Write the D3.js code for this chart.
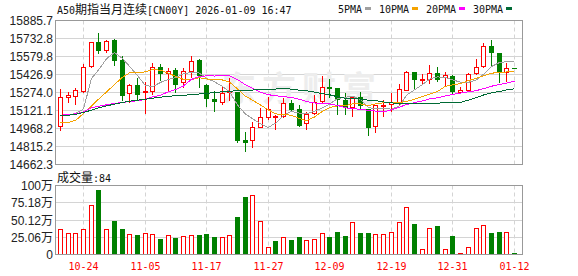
<!DOCTYPE html>
<html>
<head>
<meta charset="utf-8">
<script src="https://cdn.jsdelivr.net/npm/d3@7"></script>
<style>
    body { margin: 0; background: #fff; }
    svg { display: block; }
    .mono { font-family: "DejaVu Sans Mono", "Liberation Mono", monospace; font-size: 10px; }
    .cjk { font-family: "Noto Sans CJK SC", sans-serif; font-size: 12px; }
    .num { font-family: "Liberation Sans", Arial, sans-serif; font-size: 12px; }
</style>
</head>
<body>
<svg id="chart" width="578" height="276"></svg>
<script>
// Trading days shown on the chart (MM-DD).
var dates = ["10-21","10-22","10-23","10-24","10-27","10-28","10-29","10-30","10-31","11-03",
    "11-04","11-05","11-06","11-07","11-10","11-11","11-12","11-13","11-14","11-17",
    "11-18","11-19","11-20","11-21","11-24","11-25","11-26","11-27","11-28","12-01",
    "12-02","12-03","12-04","12-05","12-08","12-09","12-10","12-11","12-12","12-15",
    "12-16","12-17","12-18","12-19","12-22","12-23","12-24","12-25","12-26","12-29",
    "12-30","12-31","01-01","01-02","01-05","01-06","01-07","01-08","01-09","01-12"];

var opens = [14987.7,15234,15242.6,15285,15497.4,15696,15633.4,15715.8,15545.9,15262.9,
    15333.5,15271.4,15285,15489,15433,15460.9,15356.4,15455,15545.9,15333.5,
    15214.5,15191.6,15271.4,15276.5,14866.2,14866.2,14979,15059,15064,15072.7,
    15180.5,15129.6,15008,15093,15195,15319,15308,15206,15144,15229,
    15129.6,14982.6,15157.6,15174.6,15191.6,15291,15441.4,15376,15384.4,15433,
    15399,15407.4,15276.5,15293.5,15433,15492.3,15662.3,15605.3,15446.5,15476];
var highs = [15308,15285,15314,15518,15701,15781,15724,15730,15588,15350.5,
    15399,15370,15531.4,15520.4,15483.8,15483.8,15483.8,15588,15560.3,15348,
    15291,15327.5,15399,15285,14945.2,15030,15144,15242.6,15087,15229,
    15214.5,15172,15115,15257,15418.4,15390.4,15314,15276.5,15248.5,15285,
    15135.5,15166,15214.5,15271.4,15348,15460.9,15441.4,15433,15512,15497.4,
    15455,15427,15322.4,15446.5,15560.3,15696,15724,15612,15526.3,15476];
var lows = [14953.7,15186.5,15172,15276.5,15489,15602.8,15611,15506,15206,15186.5,
    15206,15095.6,15259.5,15376,15291,15276.5,15314,15399,15314,15157.6,
    15115,15172,15206,14846.7,14770.2,14809.3,14974,15044.6,14959.7,15064,
    15112.6,14985,14959.7,15087,15186.5,15229,15087,15087,15072.7,15129.6,
    14911.2,14931.6,15072.7,15115,15172,15291,15299.5,15342,15348,15370,
    15327.5,15257,15271.4,15285,15427,15483.8,15503.4,15361.5,15370,15475];
var closes = [15229,15246,15291,15489,15696,15630.8,15704.7,15548.4,15251,15333.5,
    15259.5,15285,15489,15433,15455,15342,15455,15534.8,15418.4,15220.5,
    15197.5,15265.5,15285,14868.7,14851.7,14974,15059,15129.6,15067,15180.5,
    15129.6,14993.6,15087,15186.5,15314,15308,15214.5,15144,15229,15163.5,
    14979,15163.5,15166,15186.5,15299.5,15446.5,15384.4,15386,15433,15384.4,
    15418.4,15285,15288,15427,15483.8,15667.4,15611,15446.5,15475.3,15475];

// Volume in 万 (10k).
var volumes = [36,30,30,37,71,93,36,47.7,36,28.7,
    27,30,28.7,21.5,27,23,25.8,27,27,28.7,
    24.4,24.4,27,53.6,82.8,85.7,47.7,9.8,18.5,24.4,
    20,24.4,20,21.5,30,24.4,31.7,25.8,46,30,
    30,28.7,28.7,31.7,46,69,43,6.8,37.5,40,
    6.8,25.8,1,9.8,37.5,42,30,31.7,31.7,0.0084];
var lastVolume = 84;

// Moving averages.
var ma5 = [15076,15081,15096,15135,15390.2,15470.6,15562.3,15613.8,15566.2,15493.7,
    15419.4,15335.5,15323.6,15360,15384.3,15400.8,15434.8,15444,15441,15394.1,
    15365.2,15327.3,15277.4,15167.4,15093.7,15049,15007.7,14976.6,15016.4,15082.1,
    15113.2,15100.2,15091.6,15115.4,15142.1,15177.8,15222,15233.4,15241.9,15211.8,
    15146,15135.8,15140.2,15131.7,15158.9,15252.4,15296.6,15340.3,15389.6,15406.5,
    15400.9,15381,15361.2,15360,15379.8,15429.6,15494.8,15527.1,15536.8,15535];
var ma10 = [15016.6,15019,15038.7,15095.6,15157.6,15220.5,15279.9,15340.3,15401.4,15441.9,
    15445,15448.9,15468.7,15463.1,15439,15410.1,15385.1,15383.8,15400.5,15389.2,
    15383,15381.1,15360.7,15304.2,15243.9,15207.1,15167.5,15127,15091.9,15087.9,
    15081.1,15053.9,15034.1,15065.9,15112.1,15145.5,15161.1,15162.5,15178.7,15177,
    15161.9,15178.9,15186.8,15186.8,15185.4,15199.2,15216.2,15240.2,15260.6,15282.7,
    15326.7,15338.8,15350.7,15374.8,15393.2,15415.3,15437.9,15444.2,15448.4,15457.4];
var ma20 = [15080,15087,15093,15110,15144,15157.6,15169.5,15180.5,15189,15197.5,
    15203.5,15214.5,15237.5,15251,15280,15300,15330,15385,15410,15415.6,
    15414,15415,15414.7,15383.7,15341.5,15308.6,15276.3,15255.4,15246.2,15238.6,
    15232.1,15217.5,15197.4,15185.1,15178,15176.3,15164.3,15144.8,15135.3,15132.4,
    15121.5,15116.4,15110.5,15126.4,15148.7,15172.4,15188.6,15201.4,15219.7,15229.8,
    15244.3,15258.9,15268.8,15280.8,15289.3,15307.2,15327.1,15342.2,15354.5,15370.1];
var ma30 = [15076,15081,15089.6,15104,15123.7,15144,15161,15174.6,15189,15200,
    15208.6,15217,15225.6,15234,15242.6,15245.9,15250.2,15255.3,15261.2,15267.2,
    15274,15279.9,15285,15289.3,15292.7,15295.2,15297.8,15300.3,15303.7,15306.4,
    15303,15294.6,15287.8,15277.7,15265,15254.3,15237.9,15224.4,15223.7,15218,
    15208.7,15204.6,15193.9,15185.6,15180.5,15184,15181.6,15176.6,15177.1,15182.5,
    15189.9,15190.5,15190.5,15209.2,15230.2,15253.3,15271.7,15282.3,15295.9,15305.7];

var priceTicks = [14662.3,14815.2,14968.2,15121.1,15274.0,15426.9,15579.8,15732.8,15885.7];
var volTicks = [0,25.06,50.12,75.18,100.24];
var volTickLabels = ["0","25.06万","50.12万","75.18万","100万"];
var tickDates = ["10-24","11-05","11-17","11-27","12-09","12-19","12-31","01-12"];

var maNames = ["5PMA","10PMA","20PMA","30PMA"];
var maSeries = [ma5, ma10, ma20, ma30];
var maColors = ["#a0a0a0","#f5a300","#ff00ff","#006a35"];

const UP = "#ff0000", DOWN = "#008000";
const GRID = "#d4d4d4", BORDER = "#999999";

var svg = d3.select("#chart");
var plotLeft = 55.5, plotRight = 522.5;

var x = d3.scaleLinear().domain([0, 59]).range([60.5, 514.5]);
var y = d3.scaleLinear().domain([14662.3, 15885.7]).range([164.5, 20.5]);
var yv = d3.scaleLinear().domain([0, 100.24]).range([254.5, 185.5]);

function cx(i) { return Math.floor(x(i)) + 0.5; }
function px(v) { return Math.round(v - 0.5) + 0.5; }

/**
 * Candle colour: close vs open. Volume colour: close vs previous close.
 */
function candleUp(i) { return closes[i] >= opens[i]; }
function volUp(i) { return i === 0 ? candleUp(0) : closes[i] >= closes[i - 1]; }

var tickIdx = tickDates.map(function(d) { return dates.indexOf(d); });

// ---- grids ----
function drawGrid(scale, ticks, top, bottom) {
    svg.append("g").selectAll("line")
        .data(ticks)
        .enter().append("line")
        .attr("x1", plotLeft).attr("x2", plotRight)
        .attr("y1", function(d) { return px(scale(d)); })
        .attr("y2", function(d) { return px(scale(d)); })
        .style("stroke", GRID);

    svg.append("g").selectAll("line")
        .data(tickIdx)
        .enter().append("line")
        .attr("x1", function(d) { return cx(d); })
        .attr("x2", function(d) { return cx(d); })
        .attr("y1", top).attr("y2", bottom)
        .style("stroke", GRID)
        .style("stroke-dasharray", "4,3");
}
drawGrid(y, priceTicks, 20.5, 164.5);
drawGrid(yv, volTicks, 185.5, 254.5);

// watermark
svg.append("text")
    .attr("x", 302).attr("y", 101)
    .attr("text-anchor", "middle")
    .attr("class", "cjk")
    .style("font-size", "34px")
    .style("font-weight", "bold")
    .style("letter-spacing", "6px")
    .style("fill", "#ededed")
    .text("东方财富");

// ---- candles ----
var candles = svg.append("g").attr("shape-rendering", "crispEdges");
d3.range(dates.length).forEach(function(i) {
    var c = cx(i), up = candleUp(i), col = up ? UP : DOWN;
    var yTop = px(y(Math.max(opens[i], closes[i])));
    var yBot = px(y(Math.min(opens[i], closes[i])));
    candles.append("line")
        .attr("x1", c).attr("x2", c)
        .attr("y1", px(y(highs[i]))).attr("y2", px(y(lows[i])))
        .style("stroke", col);
    if (yBot - yTop < 1) {
        candles.append("line")
            .attr("x1", c - 2.5).attr("x2", c + 2.5)
            .attr("y1", yTop).attr("y2", yTop)
            .style("stroke", col);
    } else if (up) {
        candles.append("rect")
            .attr("x", c - 2).attr("y", yTop)
            .attr("width", 4).attr("height", yBot - yTop)
            .style("fill", "#fff").style("stroke", col);
    } else {
        candles.append("rect")
            .attr("x", c - 2.5).attr("y", yTop - 0.5)
            .attr("width", 5).attr("height", yBot - yTop + 1)
            .style("fill", col);
    }
});

// ---- moving averages ----
var line = d3.line()
    .x(function(d, i) { return x(i); })
    .y(function(d) { return y(d); });
svg.append("g").selectAll("path")
    .data(maSeries)
    .enter().append("path")
    .attr("d", line)
    .attr("shape-rendering", "crispEdges")
    .style("fill", "none")
    .style("stroke", function(d, i) { return maColors[i]; });

// ---- volume bars ----
var vbars = svg.append("g").attr("shape-rendering", "crispEdges");
d3.range(dates.length).forEach(function(i) {
    var c = cx(i), up = volUp(i);
    var top = px(Math.min(yv(volumes[i]), 253));
    if (up) {
        vbars.append("rect")
            .attr("x", c - 2).attr("y", top)
            .attr("width", 4).attr("height", 254.5 - top)
            .style("fill", "#fff").style("stroke", UP);
    } else {
        vbars.append("rect")
            .attr("x", c - 2.5).attr("y", top - 0.5)
            .attr("width", 5).attr("height", 254.5 - top + 0.5)
            .style("fill", DOWN);
    }
});

// ---- frames ----
[[20.5, 164.5], [185.5, 254.5]].forEach(function(b) {
    svg.append("rect")
        .attr("x", plotLeft).attr("y", b[0])
        .attr("width", plotRight - plotLeft).attr("height", b[1] - b[0])
        .style("fill", "none").style("stroke", BORDER);
});

// ---- axis labels ----
svg.append("g").selectAll("text")
    .data(priceTicks)
    .enter().append("text")
    .attr("class", "num")
    .attr("x", 53).attr("y", function(d) { return y(d) + 4.5; })
    .attr("text-anchor", "end")
    .style("fill", "#222")
    .text(function(d) { return d.toFixed(1); });

var vl = svg.append("g").selectAll("text")
    .data(volTicks)
    .enter().append("text")
    .attr("x", 53).attr("y", function(d) { return yv(d) + 4.5; })
    .attr("text-anchor", "end")
    .style("fill", "#222");
vl.each(function(d, i) {
    var label = volTickLabels[i];
    var t = d3.select(this);
    var num = label.replace("万", "");
    t.append("tspan").attr("class", "num").text(num);
    if (label.indexOf("万") >= 0) t.append("tspan").attr("class", "cjk").text("万");
});

svg.append("g").selectAll("text")
    .data(tickDates)
    .enter().append("text")
    .attr("class", "mono")
    .attr("x", function(d, i) { return cx(tickIdx[i]); })
    .attr("y", 269.5)
    .attr("text-anchor", "middle")
    .style("fill", UP)
    .text(function(d) { return d; });

// ---- title, legend, volume caption ----
var title = svg.append("text").attr("x", 57).attr("y", 13.5).style("fill", "#111");
title.append("tspan").attr("class", "mono").text("A50");
title.append("tspan").attr("class", "cjk").text("期指当月连续");
title.append("tspan").attr("class", "mono").text("[CN00Y] 2026-01-09 16:47");

var lx = 338;
maNames.forEach(function(name, i) {
    svg.append("text")
        .attr("class", "mono")
        .attr("x", lx).attr("y", 12.5)
        .style("fill", "#111")
        .text(name);
    lx += name.length * 6 + 3;
    svg.append("rect")
        .attr("x", lx).attr("y", 7)
        .attr("width", 6).attr("height", 3)
        .style("fill", maColors[i]);
    lx += 6 + 8;
});

var cap = svg.append("text").attr("x", 57).attr("y", 181.5).style("fill", "#111");
cap.append("tspan").attr("class", "cjk").text("成交量");
cap.append("tspan").attr("class", "mono").text(":" + lastVolume);
</script>
</body>
</html>
